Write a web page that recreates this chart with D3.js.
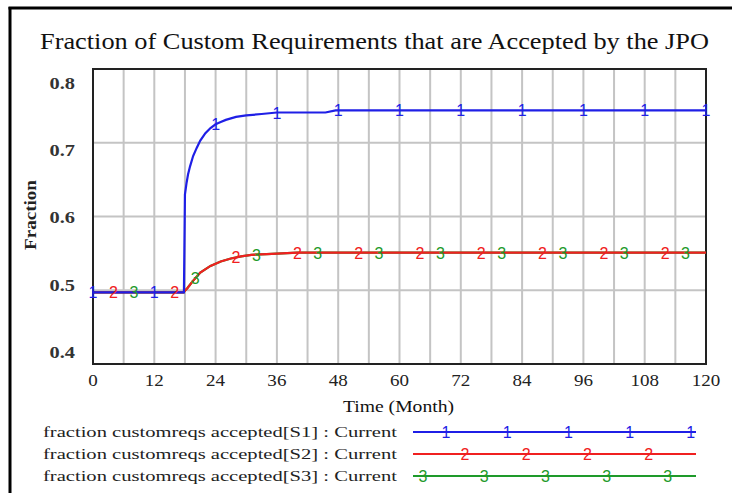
<!DOCTYPE html>
<html><head><meta charset="utf-8">
<script src="https://cdn.jsdelivr.net/npm/d3@7"></script>
<style>html,body{margin:0;padding:0;background:#fff;}svg{display:block;}</style>
</head><body>
<svg id="c" width="732" height="493"></svg>
<script>
// ---- data ----
const title = "Fraction of Custom Requirements that are Accepted by the JPO";
const xTicks = [0, 12, 24, 36, 48, 60, 72, 84, 96, 108, 120];
const yTicks = [0.4, 0.5, 0.6, 0.7, 0.8];
const xLabel = "Time (Month)";
const yLabel = "Fraction";
const seriesNames = ["fraction customreqs accepted[S1] : Current",
                     "fraction customreqs accepted[S2] : Current",
                     "fraction customreqs accepted[S3] : Current"];
const seriesColors = ["#1f1fe6", "#f02020", "#1e9a2a"];
const seriesMarks = ["1", "2", "3"];
const s1Time  = [0, 17.8, 18.0, 18.3, 18.6, 19.0, 19.6, 20.3, 21, 22, 23, 24, 25, 26, 28, 30, 33, 36, 40, 45.5, 47.5, 60, 90, 120];
const s1Value = [0.497, 0.497, 0.63, 0.645, 0.657, 0.668, 0.682, 0.693, 0.703, 0.713, 0.72, 0.725, 0.728, 0.731, 0.735, 0.737, 0.739, 0.741, 0.741, 0.741, 0.744, 0.744, 0.744, 0.744];
const s2Time  = [0, 17.7, 18.5, 19.5, 21, 23, 25, 27, 29, 31, 34, 37, 40, 120];
const s2Value = [0.497, 0.497, 0.503, 0.512, 0.524, 0.533, 0.539, 0.543, 0.546, 0.548, 0.549, 0.55, 0.551, 0.551];
const s3Time  = [0, 17.7, 18.5, 19.5, 21, 23, 25, 27, 29, 31, 34, 37, 40, 120];
const s3Value = [0.497, 0.497, 0.503, 0.512, 0.524, 0.533, 0.539, 0.543, 0.546, 0.548, 0.549, 0.55, 0.551, 0.551];
const s1MarkTimes = [0, 12, 24, 36, 48, 60, 72, 84, 96, 108, 120];
const s2MarkTimes = [4, 16, 28, 40, 52, 64, 76, 88, 100, 112];
const s3MarkTimes = [8, 20, 32, 44, 56, 68, 80, 92, 104, 116];

// ---- layout ----
const svg = d3.select("#c");
const L = 93, R = 706, T = 69, B = 364;
const x = d3.scaleLinear().domain([0, 120]).range([L, R]);
const y = d3.scaleLinear().domain([0.4, 0.8]).range([B, T]);
const yLab = d3.scaleLinear().domain([0.4, 0.8]).range([352, 83]);
const serif = "'Liberation Serif','Times New Roman',serif";
const sans = "'Liberation Sans',Arial,sans-serif";

// outer frame (left + top)
svg.append("line").attr("x1", 10).attr("x2", 10).attr("y1", 7).attr("y2", 493).attr("stroke", "#000").attr("stroke-width", 3);
svg.append("line").attr("x1", 8.5).attr("x2", 732).attr("y1", 8).attr("y2", 8).attr("stroke", "#000").attr("stroke-width", 3);

// title
svg.append("text").attr("x", 40).attr("y", 49).attr("font-family", serif).attr("font-size", 24)
  .attr("textLength", 669).attr("lengthAdjust", "spacingAndGlyphs").attr("fill", "#111").text(title);

// grid
const vGrid = d3.range(6, 120, 6);
svg.append("g").selectAll("line").data(vGrid).join("line")
  .attr("x1", d => x(d)).attr("x2", d => x(d)).attr("y1", T).attr("y2", B)
  .attr("stroke", "#c4c4c4").attr("stroke-width", 2);
svg.append("g").selectAll("line").data(yTicks.slice(1, -1)).join("line")
  .attr("x1", L).attr("x2", R).attr("y1", d => y(d)).attr("y2", d => y(d))
  .attr("stroke", "#c4c4c4").attr("stroke-width", 2);

// plot frame
svg.append("rect").attr("x", L).attr("y", T).attr("width", R - L).attr("height", B - T)
  .attr("fill", "none").attr("stroke", "#222").attr("stroke-width", 2);

// axis labels
svg.append("g").selectAll("text").data(xTicks).join("text")
  .attr("x", d => x(d)).attr("y", 386).attr("text-anchor", "middle")
  .attr("font-family", serif).attr("font-size", 17).attr("fill", "#222")
  .attr("transform", d => `translate(${x(d)},0) scale(1.12,1) translate(${-x(d)},0)`)
  .text(d => d);
svg.append("g").selectAll("text").data(yTicks).join("text")
  .attr("x", 75).attr("y", d => yLab(d) + 6).attr("text-anchor", "end")
  .attr("font-family", serif).attr("font-size", 17).attr("font-weight", "bold").attr("fill", "#333")
  .attr("transform", `translate(75,0) scale(1.2,1) translate(-75,0)`)
  .text(d => d3.format(".1f")(d));
svg.append("text").attr("x", 343).attr("y", 412).attr("font-family", serif).attr("font-size", 16)
  .attr("textLength", 111).attr("lengthAdjust", "spacingAndGlyphs").attr("fill", "#111").text(xLabel);
svg.append("text").attr("transform", "translate(36,250) rotate(-90)").attr("font-family", serif)
  .attr("font-size", 16).attr("font-weight", "bold").attr("textLength", 70).attr("lengthAdjust", "spacingAndGlyphs")
  .attr("fill", "#222").text(yLabel);

// series
const series = [
  {t: s3Time, v: s3Value, m: s3MarkTimes, i: 2},
  {t: s2Time, v: s2Value, m: s2MarkTimes, i: 1},
  {t: s1Time, v: s1Value, m: s1MarkTimes, i: 0}
];
const line = d3.line().x(d => x(d[0])).y(d => y(d[1]));
function valAt(ts, vs, t) {
  for (let k = 0; k < ts.length - 1; k++) {
    if (t >= ts[k] && t <= ts[k + 1]) {
      const f = ts[k + 1] === ts[k] ? 0 : (t - ts[k]) / (ts[k + 1] - ts[k]);
      return vs[k] + f * (vs[k + 1] - vs[k]);
    }
  }
  return vs[vs.length - 1];
}
series.forEach(s => {
  svg.append("path").attr("d", line(s.t.map((t, k) => [t, s.v[k]])))
    .attr("fill", "none").attr("stroke", seriesColors[s.i]).attr("stroke-width", 2.2);
});
series.forEach(s => {
  svg.append("g").selectAll("text").data(s.m).join("text")
    .attr("x", d => x(d)).attr("y", d => y(valAt(s.t, s.v, d)) + 6)
    .attr("text-anchor", "middle").attr("font-family", sans).attr("font-size", 16)
    .attr("fill", seriesColors[s.i]).text(seriesMarks[s.i]);
});

// legend
const legY = [432, 454, 476];
const legX0 = 413, legX1 = 696;
const legMarkStart = [33, 52, 10];
svg.append("g").selectAll("text").data(seriesNames).join("text")
  .attr("x", 43).attr("y", (d, i) => legY[i] + 5)
  .attr("font-family", serif).attr("font-size", 15).attr("fill", "#222")
  .attr("textLength", 354).attr("lengthAdjust", "spacingAndGlyphs").text(d => d);
seriesNames.forEach((n, i) => {
  svg.append("line").attr("x1", legX0).attr("x2", legX1).attr("y1", legY[i]).attr("y2", legY[i])
    .attr("stroke", seriesColors[i]).attr("stroke-width", 2.2);
  const pos = d3.range(legX0 + legMarkStart[i], legX1, 61.2);
  svg.append("g").selectAll("text").data(pos).join("text")
    .attr("x", d => d).attr("y", legY[i] + 6).attr("text-anchor", "middle")
    .attr("font-family", sans).attr("font-size", 16).attr("fill", seriesColors[i]).text(seriesMarks[i]);
});
</script>
</body></html>
